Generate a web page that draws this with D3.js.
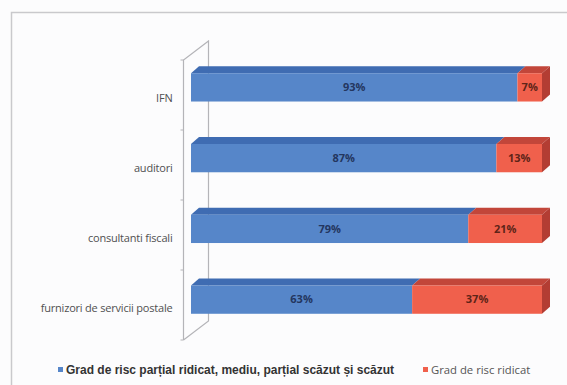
<!DOCTYPE html>
<html>
<head>
<meta charset="utf-8">
<script src="https://cdnjs.cloudflare.com/ajax/libs/d3/7.8.5/d3.min.js"></script>
<style>
  body { margin: 0; background: #fcfcfd; overflow: hidden; }
  svg { display: block; }
</style>
</head>
<body>
<svg id="chart"></svg>
<script>
// categories (top -> bottom)
const categories = ["IFN", "auditori", "consultanti fiscali", "furnizori de servicii postale"];
// share of each risk grade, in %
const lowRisk = [93, 87, 79, 63];
const highRisk = [7, 13, 21, 37];
const seriesNames = ["Grad de risc parțial ridicat, mediu, parțial scăzut și scăzut", "Grad de risc ridicat"];

const w = 567, h = 385;
const svg = d3.select("#chart").attr("width", w).attr("height", h);

// outer chart frame (runs off the right/bottom edge)
svg.append("path")
  .attr("d", `M11.5,${h + 5} L11.5,12.5 L${w + 5},12.5`)
  .attr("fill", "none")
  .attr("stroke", "#c9c9cc").attr("stroke-width", 1.5);

// depth of wall & bars
const wallDx = 25, wallDy = -19;
const barDx = 8, barDy = -7;

const xScale = d3.scaleLinear().domain([0, 100]).range([191, 542]);

// axis (front plane of the wall)
const axisY = d3.scaleBand().domain(categories).range([60, 340]);
// bars (front faces)
const barY = d3.scaleBand().domain(categories).range([52, 335])
  .paddingInner(0.6).paddingOuter(0.3);

const wallX = 183.5;

// wall
const wall = svg.append("g").attr("stroke", "#b4b4b8").attr("stroke-width", 1.2).attr("fill", "none");
wall.append("path").attr("d",
  `M${wallX},${axisY.range()[1]} L${wallX},${axisY.range()[0]} L${wallX + wallDx},${axisY.range()[0] + wallDy} L${wallX + wallDx},${axisY.range()[1] + wallDy} L${wallX},${axisY.range()[1]}`);

// y axis labels
const yAxis = d3.axisLeft(axisY).tickSize(0).tickPadding(11);
const gAxis = svg.append("g").attr("transform", `translate(${wallX},0)`).call(yAxis);
gAxis.select(".domain").remove();
gAxis.selectAll("text")
  .attr("dy", "0.6em")
  .style("font-family", "'Open Sans', sans-serif")
  .style("font-size", "11px")
  .style("letter-spacing", "-0.2px")
  .attr("fill", "#505050");

// small tick marks at band boundaries
const bounds = categories.map(c => axisY(c)).concat([axisY.range()[1]]);
svg.append("g").selectAll("line")
  .data(bounds)
  .join("line")
  .attr("x1", wallX - 3).attr("x2", wallX)
  .attr("y1", d => d).attr("y2", d => d)
  .attr("stroke", "#b4b4b8");

// stacked segments
const stacked = categories.map((c, i) => ({ cat: c, segs: [
  { s: 0, x0: 0, x1: lowRisk[i], v: lowRisk[i] },
  { s: 1, x0: lowRisk[i], x1: lowRisk[i] + highRisk[i], v: highRisk[i] }
]}));

const front = ["#5686c9", "#f0604c"];
const topC = ["#3f6cb2", "#c2463a"];
const sideC = ["#3a62a3", "#b33d33"];
const labC = ["#24365f", "#5e2418"];

const bars = svg.append("g");
stacked.forEach(row => {
  const y0 = barY(row.cat), bh = barY.bandwidth();
  row.segs.forEach(seg => {
    const xa = xScale(seg.x0), xb = xScale(seg.x1);
    // top face
    bars.append("path")
      .attr("d", `M${xa},${y0} L${xa + barDx},${y0 + barDy} L${xb + barDx},${y0 + barDy} L${xb},${y0} Z`)
      .attr("fill", topC[seg.s]);
    // front face
    bars.append("rect")
      .attr("x", xa).attr("y", y0)
      .attr("width", xb - xa).attr("height", bh)
      .attr("fill", front[seg.s]);
    // label
    bars.append("text")
      .attr("x", (xa + xb) / 2).attr("y", y0 + bh / 2)
      .attr("dy", "0.35em")
      .attr("text-anchor", "middle")
      .style("font-family", "'Open Sans', sans-serif")
      .style("font-size", "11px")
      .style("font-weight", "bold")
      .attr("fill", labC[seg.s])
      .text(seg.v + "%");
  });
  // right side face
  const xe = xScale(100);
  bars.append("path")
    .attr("d", `M${xe},${y0} L${xe + barDx},${y0 + barDy} L${xe + barDx},${y0 + bh + barDy} L${xe},${y0 + bh} Z`)
    .attr("fill", sideC[1]);
});

// legend
const legend = svg.append("g").attr("transform", "translate(0,370)");
const legItems = [
  { x: 58, name: seriesNames[0], c: front[0], weight: "bold", size: "12px", fam: "'Liberation Sans', Arial, sans-serif", col: "#333" },
  { x: 423, name: seriesNames[1], c: front[1], weight: "normal", size: "11.3px", fam: "'Open Sans', sans-serif", col: "#555" }
];
legItems.forEach(d => {
  legend.append("rect").attr("x", d.x).attr("y", -3).attr("width", 5).attr("height", 5).attr("fill", d.c);
  legend.append("text")
    .attr("x", d.x + 8).attr("y", 0).attr("dy", "0.35em")
    .style("font-family", d.fam).style("font-size", d.size).style("font-weight", d.weight)
    .attr("fill", d.col)
    .text(d.name);
});
</script>
</body>
</html>
